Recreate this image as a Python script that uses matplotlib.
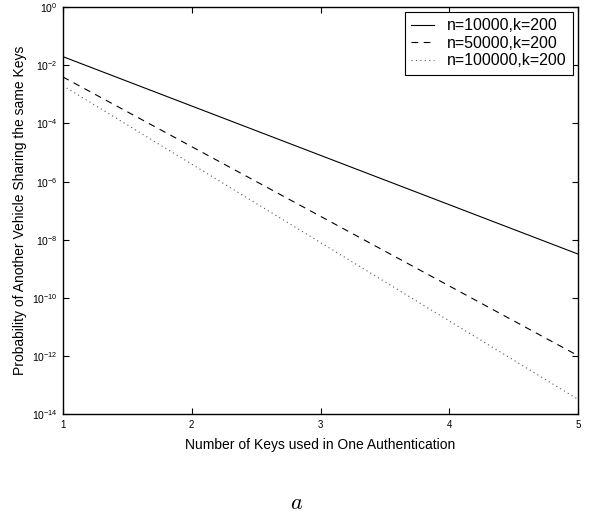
import numpy as np
import matplotlib.pyplot as plt

plt.rcParams['font.family'] = ['Liberation Sans', 'DejaVu Sans']
plt.rcParams['mathtext.fontset'] = 'custom'
plt.rcParams['mathtext.rm'] = 'Liberation Sans'
plt.rcParams['mathtext.it'] = 'Liberation Sans:italic'
plt.rcParams['mathtext.default'] = 'regular'

# number of keys used
keys = [1, 2, 3, 4, 5]
# probability
p_10000 = [2e-2, 4e-4, 8e-6, 1.6e-7, 3.2e-9]
p_50000 = [4e-3, 1.6e-5, 6.4e-8, 2.56e-10, 1.02e-12]
p_100000 = [2e-3, 4e-6, 8e-9, 1.6e-11, 3.2e-14]
labels = ["n=10000,k=200", "n=50000,k=200", "n=100000,k=200"]
y_ticks = [1e-14, 1e-12, 1e-10, 1e-8, 1e-6, 1e-4, 1e-2, 1e0]
y_ticklabels = [r"$10^{-14}$", r"$10^{-12}$", r"$10^{-10}$", r"$10^{-8}$",
                r"$10^{-6}$", r"$10^{-4}$", r"$10^{-2}$", r"$10^{0}$"]

fig = plt.figure(figsize=(5.93, 5.17), dpi=100)
ax = fig.add_axes([0.106, 0.199, 0.869, 0.787])

ax.semilogy(keys, p_10000, color='k', linestyle='-', linewidth=0.8, label=labels[0])
ax.semilogy(keys, p_50000, color='k', linestyle=(0, (6, 5)), linewidth=0.8, label=labels[1])
ax.semilogy(keys, p_100000, color='#555555', linestyle=(0, (1, 3)), linewidth=0.8, label=labels[2])

ax.set_xlim(1, 5)
ax.set_ylim(1e-14, 1e0)
ax.set_xticks([1, 2, 3, 4, 5])
ax.set_xticklabels(["1", "2", "3", "4", "5"], fontsize=7)
ax.set_yticks(y_ticks)
ax.set_yticklabels(y_ticklabels, fontsize=7.5)
ax.minorticks_off()
ax.tick_params(direction='in', top=True, right=True, length=4, width=0.8, pad=4)
for sp in ax.spines.values():
    sp.set_linewidth(1.0)

ax.set_xlabel("Number of Keys used in One Authentication", fontsize=10, labelpad=6)
ax.set_ylabel("Probability of Another Vehicle Sharing the same Keys", fontsize=10, labelpad=3)

leg = ax.legend(loc='upper right', fontsize=11.5, frameon=True, fancybox=False,
                edgecolor='k', framealpha=1, handlelength=1.4, handletextpad=0.85,
                borderpad=0.4, labelspacing=0.15, borderaxespad=0.3)
leg.get_frame().set_linewidth(0.8)

fig.text(0.5, 0.027, r"$\mathit{a}$", fontsize=16, ha='center', va='center', math_fontfamily='cm')

fig.savefig("out.png", dpi=100)
